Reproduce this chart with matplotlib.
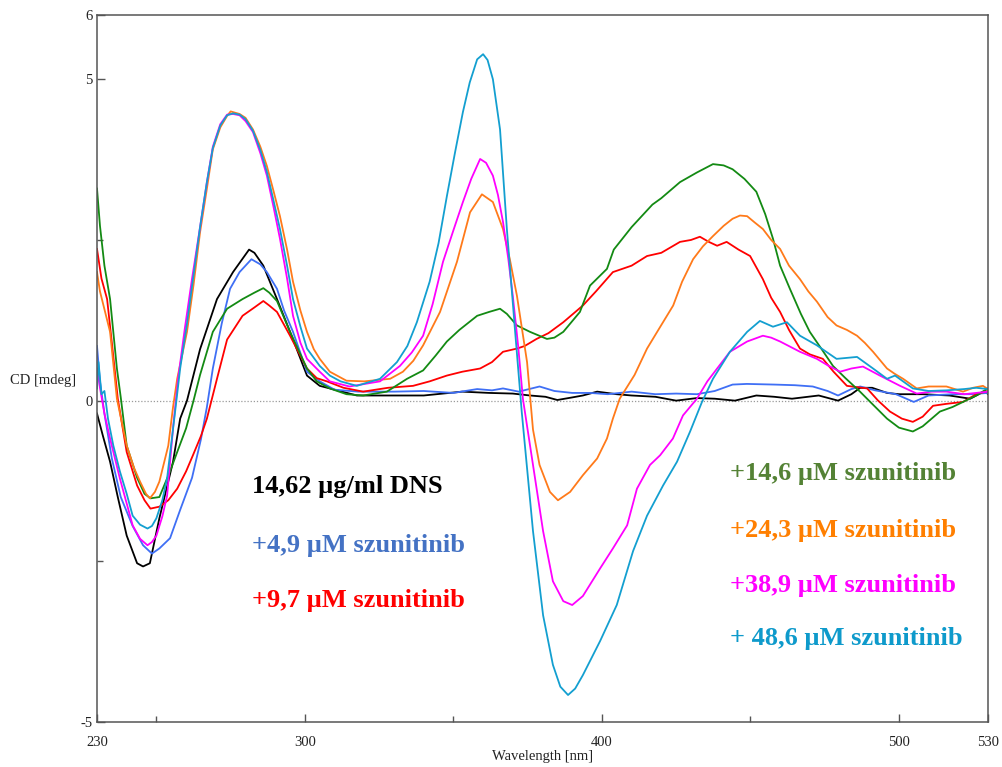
import matplotlib
matplotlib.use("Agg")
import matplotlib.pyplot as plt
from matplotlib.ticker import FixedLocator

# ---------------- data ----------------
x_dns = [230, 232, 234.4, 237, 240, 243.5, 245.5, 247.8, 251, 255.6, 258, 260.3, 264.7, 270.4, 275.8,
         281.2, 283, 286, 290.6, 295, 300.7, 305, 308.4, 317.5, 326, 340, 353, 362, 370, 375.8, 381,
         385, 390, 393.6, 398.4, 405, 410, 418, 425, 432, 438, 444.8, 452, 458, 464, 473, 479.5, 484,
         487, 491, 496, 500, 508, 517, 524, 529, 530]
y_dns = [-0.2, -0.55, -0.95, -1.5, -2.1, -2.53, -2.58, -2.53, -1.83, -0.95, -0.28, 0.0, 0.8, 1.58, 2.0,
         2.35, 2.3, 2.1, 1.58, 1.07, 0.39, 0.23, 0.19, 0.08, 0.08, 0.08, 0.14, 0.12, 0.11, 0.08, 0.06,
         0.01, 0.05, 0.08, 0.14, 0.1, 0.08, 0.06, 0.0, 0.04, 0.03, 0.0, 0.08, 0.06, 0.03, 0.08, 0.0, 0.1,
         0.2, 0.2, 0.12, 0.1, 0.1, 0.08, 0.03, 0.15, 0.1]

x_49 = [230, 231, 232.5, 235, 238, 242, 245.5, 248.5, 251, 254.6, 258, 262, 265, 267, 269, 272, 274.8,
        278, 282, 285, 287.2, 290.6, 293, 296, 300.7, 305, 310, 318, 330, 340, 350, 358, 363, 366.7,
        372, 379, 384, 390, 396, 402, 410, 418, 425, 432, 438, 444, 448.8, 458, 465, 471, 476, 479.5,
        484, 487, 492, 499, 505, 510, 518, 524, 530]
y_49 = [0.85, 0.3, -0.2, -0.9, -1.5, -1.95, -2.25, -2.38, -2.3, -2.14, -1.7, -1.2, -0.6, -0.1, 0.5, 1.2,
        1.74, 2.0, 2.2, 2.12, 2.0, 1.74, 1.4, 1.07, 0.45, 0.3, 0.17, 0.14, 0.14, 0.15, 0.12, 0.18, 0.16,
        0.19, 0.14, 0.22, 0.15, 0.12, 0.12, 0.1, 0.14, 0.1, 0.11, 0.1, 0.15, 0.25, 0.26, 0.25, 0.24, 0.22,
        0.15, 0.08, 0.18, 0.22, 0.16, 0.1, -0.02, 0.08, 0.1, 0.1, 0.12]

x_97 = [230, 231.5, 233.4, 235, 237, 240, 243.5, 246, 248, 251, 254, 257, 260, 262.3, 265, 267, 270.4,
        273.8, 279, 283, 286, 288, 290.6, 295, 300.7, 304, 307.4, 313, 319.6, 328, 336.4, 342, 347.8,
        353, 359, 363, 366.7, 371.4, 374, 378, 382, 387, 393.6, 398, 403.7, 410, 415.2, 420, 426.3,
        430, 433, 436, 438.8, 442, 446, 449.9, 454.2, 457, 460, 463, 466.7, 470, 474.4, 478, 482.5,
        489.3, 493, 497, 501, 504.7, 508, 511.5, 516, 521.6, 526, 530]
y_97 = [2.36, 1.9, 1.58, 0.9, 0.03, -0.8, -1.32, -1.55, -1.68, -1.65, -1.55, -1.37, -1.1, -0.85, -0.55,
        -0.28, 0.34, 0.95, 1.32, 1.45, 1.55, 1.48, 1.38, 1.01, 0.5, 0.35, 0.3, 0.2, 0.14, 0.2, 0.23, 0.3,
        0.39, 0.45, 0.5, 0.6, 0.76, 0.81, 0.85, 0.96, 1.05, 1.22, 1.48, 1.7, 2.0, 2.1, 2.25, 2.3, 2.47,
        2.5, 2.55, 2.47, 2.41, 2.47, 2.35, 2.25, 1.89, 1.6, 1.38, 1.1, 0.81, 0.72, 0.65, 0.45, 0.23,
        0.19, 0.0, -0.17, -0.28, -0.33, -0.25, -0.08, -0.05, -0.02, 0.1, 0.15]

x_146 = [230, 231, 232.5, 234.4, 236.7, 238, 240, 243.5, 246, 248, 251, 254.6, 257, 260, 262.5, 264.7,
         269, 273.8, 279, 283, 286, 288, 290.6, 295, 300.7, 304, 308.4, 314, 319.6, 327.6, 334.4, 339.8,
         344, 347.8, 352, 358, 362, 365.7, 368, 371.4, 375.8, 381.5, 384, 387, 392.6, 396, 401.7, 404,
         410, 417, 420, 426.3, 432, 437.4, 441, 444, 448, 452, 455, 457.6, 460, 463.3, 467, 470, 474,
         477.8, 482, 486.9, 491, 496, 500, 504.7, 508, 513.8, 518, 521.6, 526, 530]
y_146 = [3.3, 2.72, 2.1, 1.58, 0.5, 0.05, -0.7, -1.2, -1.45, -1.52, -1.5, -1.1, -0.8, -0.43, 0.0, 0.4,
         1.07, 1.43, 1.58, 1.68, 1.75, 1.68, 1.55, 1.07, 0.5, 0.3, 0.19, 0.1, 0.08, 0.14, 0.34, 0.47, 0.7,
         0.92, 1.1, 1.32, 1.38, 1.43, 1.35, 1.17, 1.07, 0.96, 0.98, 1.07, 1.38, 1.79, 2.05, 2.35, 2.7,
         3.05, 3.15, 3.4, 3.55, 3.68, 3.66, 3.6, 3.45, 3.25, 2.9, 2.52, 2.1, 1.74, 1.35, 1.07, 0.8, 0.54,
         0.35, 0.14, -0.05, -0.28, -0.42, -0.48, -0.4, -0.17, -0.1, -0.02, 0.08, 0.19]

x_243 = [230, 231, 234.4, 236.7, 240, 242.5, 244.5, 246.5, 247.8, 249.5, 251, 254, 255.6, 257, 260.3,
         262.5, 264.7, 267, 269, 271.5, 273.8, 275, 278, 280, 282.5, 285, 287.2, 289.5, 291.6, 294, 296,
         298.5, 300.7, 303, 305, 308.4, 314, 320, 328.7, 333, 336.5, 339.8, 345.5, 351.2, 355.6, 359.6,
         363.3, 366.7, 369, 371.4, 374.8, 376.8, 379, 382.5, 385.2, 389.3, 393.6, 398.4, 401.7, 403.7,
         406, 411, 415.2, 419, 424, 427, 430.7, 434, 437.4, 441, 444, 446.5, 448.9, 451.5, 454.2, 457,
         460, 463, 466.7, 469.5, 472.4, 476, 479, 482.5, 485.9, 488.5, 491.3, 496, 498.5, 501.4, 506,
         510, 516, 521.6, 525, 528.3, 530]
y_243 = [2.0, 1.7, 1.07, 0.03, -0.7, -1.05, -1.26, -1.45, -1.52, -1.42, -1.26, -0.7, -0.1, 0.34, 1.07,
         1.8, 2.62, 3.3, 3.91, 4.25, 4.43, 4.5, 4.46, 4.4, 4.22, 3.95, 3.65, 3.25, 2.87, 2.35, 1.85, 1.4,
         1.07, 0.8, 0.65, 0.45, 0.31, 0.3, 0.34, 0.45, 0.62, 0.86, 1.38, 2.16, 2.93, 3.21, 3.09, 2.67,
         2.2, 1.63, 0.6, -0.45, -1.0, -1.42, -1.55, -1.42, -1.16, -0.9, -0.59, -0.28, 0.03, 0.4, 0.81,
         1.1, 1.48, 1.85, 2.2, 2.4, 2.56, 2.72, 2.83, 2.88, 2.87, 2.77, 2.67, 2.5, 2.36, 2.1, 1.89, 1.7,
         1.54, 1.3, 1.17, 1.1, 1.01, 0.9, 0.76, 0.5, 0.42, 0.34, 0.19, 0.22, 0.22, 0.14, 0.2, 0.23, 0.18]

x_389 = [230, 231, 232.5, 234.4, 237.7, 240, 242, 244.5, 247, 248.5, 250, 252, 253.6, 255.6, 257.3,
         259.5, 262, 264.7, 267, 269, 271.5, 273.8, 275.8, 278, 280, 282.5, 285, 287.2, 289.5, 291.6,
         294, 296, 298.5, 300.7, 305, 308.4, 315, 325.3, 332, 336, 339.8, 343, 346.5, 350, 353.2, 356,
         359, 361, 363.3, 365, 366.7, 368.5, 370, 371.8, 373.4, 376.8, 380.2, 383.5, 387, 390, 393.6,
         399.4, 403.7, 408.5, 411.8, 416.2, 419.6, 423.9, 427.3, 432, 435.5, 438.8, 443.1, 448.9, 454.2,
         457, 460, 466.7, 472.4, 476, 480.2, 484, 487.9, 493.6, 500.4, 506, 511, 516, 522, 526, 530]
y_389 = [0.5, 0.2, -0.2, -0.59, -1.21, -1.6, -1.94, -2.15, -2.25, -2.2, -2.1, -1.8, -1.48, -0.43, 0.34,
         1.1, 1.9, 2.7, 3.4, 3.95, 4.3, 4.45, 4.46, 4.44, 4.35, 4.18, 3.85, 3.5, 3.0, 2.52, 1.9, 1.32,
         0.9, 0.65, 0.45, 0.3, 0.22, 0.3, 0.54, 0.75, 1.01, 1.5, 2.16, 2.65, 3.09, 3.45, 3.76, 3.7, 3.5,
         3.2, 2.78, 2.2, 1.63, 0.85, 0.03, -1.0, -2.03, -2.81, -3.12, -3.18, -3.04, -2.61, -2.3, -1.94,
         -1.37, -1.0, -0.85, -0.59, -0.23, 0.03, 0.3, 0.5, 0.76, 0.92, 1.01, 0.98, 0.92, 0.76, 0.65,
         0.55, 0.45, 0.5, 0.53, 0.39, 0.23, 0.11, 0.14, 0.14, 0.1, 0.12, 0.14]

x_486 = [230, 230.5, 231.5, 232.5, 233.7, 235.5, 237.7, 240, 242, 244.5, 247, 248.5, 250, 252, 253.6,
         256.3, 258, 260.3, 262.5, 264.7, 267, 269, 271.5, 273.8, 275.8, 278, 280, 282.5, 285, 287.2,
         289.5, 291.6, 294, 296, 298.5, 300.7, 305, 308.4, 312, 317.5, 321, 325.3, 331, 334.5, 337.7,
         342, 345, 347.8, 350.5, 353.2, 355.5, 358, 360, 361.5, 363.3, 365.7, 368, 370.7, 373, 376.8,
         380.2, 383.5, 386, 388.6, 391, 393.6, 399.4, 405, 410.5, 415.2, 420.6, 425.3, 429.7, 433.7,
         437.4, 443.1, 448.9, 453.2, 457.6, 462.3, 466.7, 472.4, 479, 485.9, 491.3, 496, 498.7, 504.7,
         510, 516, 522, 526, 530]
y_486 = [0.19, 0.6, 0.1, 0.15, -0.28, -0.7, -1.1, -1.45, -1.79, -1.93, -1.99, -1.95, -1.83, -1.55,
         -1.21, -0.17, 0.5, 1.2, 1.95, 2.7, 3.4, 3.93, 4.28, 4.44, 4.47, 4.45, 4.38, 4.2, 3.9, 3.56, 3.1,
         2.67, 2.1, 1.58, 1.15, 0.81, 0.54, 0.39, 0.3, 0.23, 0.28, 0.34, 0.6, 0.85, 1.22, 1.85, 2.45,
         3.18, 3.85, 4.49, 4.95, 5.31, 5.39, 5.3, 5.0, 4.22, 2.67, 1.12, -0.17, -2.03, -3.34, -4.11,
         -4.45, -4.58, -4.48, -4.27, -3.74, -3.18, -2.34, -1.79, -1.32, -0.95, -0.48, -0.02, 0.34, 0.76,
         1.07, 1.24, 1.15, 1.22, 1.01, 0.86, 0.65, 0.68, 0.5, 0.34, 0.39, 0.19, 0.15, 0.16, 0.18, 0.2,
         0.18]

series_x = [x_dns, x_49, x_97, x_146, x_243, x_389, x_486]
series_y = [y_dns, y_49, y_97, y_146, y_243, y_389, y_486]
line_colors = ["#000000", "#3f6ff5", "#ff0000", "#138a13", "#ff7a1a", "#ff00ff", "#139fd0"]

labels_left = ["14,62 \u00b5g/ml DNS", "+4,9 \u00b5M szunitinib", "+9,7 \u00b5M szunitinib"]
labels_left_colors = ["#000000", "#4472c4", "#ff0000"]
labels_right = ["+14,6 \u00b5M szunitinib", "+24,3 \u00b5M szunitinib",
                "+38,9 \u00b5M szunitinib", "+ 48,6 \u00b5M szunitinib"]
labels_right_colors = ["#548235", "#ff7f00", "#ff00ff", "#0e9acb"]

x_major = [230, 300, 400, 500, 530]
x_minor = [250, 350, 450]
y_major = [-5, 0, 5, 6]
y_minor = [-2.5, 2.5]

# ---------------- figure ----------------
plt.rcParams['font.family'] = ['Liberation Serif', 'DejaVu Serif']
fig = plt.figure(figsize=(10.02, 7.67), dpi=100)
ax = fig.add_axes([97 / 1002, 1 - 722 / 767, (988 - 97) / 1002, (722 - 15) / 767])

ax.axhline(0, color="#9a9a9a", lw=0.9, ls=(0, (1, 1.5)), zorder=1)
for xs, ys, c in zip(series_x, series_y, line_colors):
    ax.plot(xs, ys, color=c, lw=1.3, zorder=2)

ax.set_xlim(230, 530)
ax.set_ylim(-5, 6)
ax.xaxis.set_major_locator(FixedLocator(x_major))
ax.xaxis.set_minor_locator(FixedLocator(x_minor))
ax.yaxis.set_major_locator(FixedLocator(y_major))
ax.yaxis.set_minor_locator(FixedLocator(y_minor))
ax.set_xticklabels([str(v) for v in x_major])
ax.set_yticklabels([str(v) for v in y_major])
ax.tick_params(which='major', direction='in', length=6, width=1, color='#555555',
               labelsize=10.5, labelcolor='#222222')
ax.tick_params(axis='x', which='major', pad=10)
ax.tick_params(axis='y', which='major', pad=3)
ax.tick_params(which='minor', direction='in', length=4, width=1, color='#555555')
for s in ax.spines.values():
    s.set_color('#555555')
    s.set_linewidth(1.1)

ax.set_xlabel("Wavelength [nm]", fontsize=10.5, color='#222222', labelpad=1)
fig.text(10 / 1002, 1 - 380 / 767, "CD [mdeg]", fontsize=10.5, color='#222222',
         ha='left', va='center')

left_y = [-1.34, -2.25, -3.11]
for t, c, yy in zip(labels_left, labels_left_colors, left_y):
    ax.text(282.2, yy, t, color=c, fontsize=19, fontweight='bold', ha='left', va='center')
right_y = [-1.13, -2.02, -2.87, -3.70]
for t, c, yy in zip(labels_right, labels_right_colors, right_y):
    ax.text(443.1, yy, t, color=c, fontsize=19, fontweight='bold', ha='left', va='center')

fig.savefig("out.png", dpi=100)
